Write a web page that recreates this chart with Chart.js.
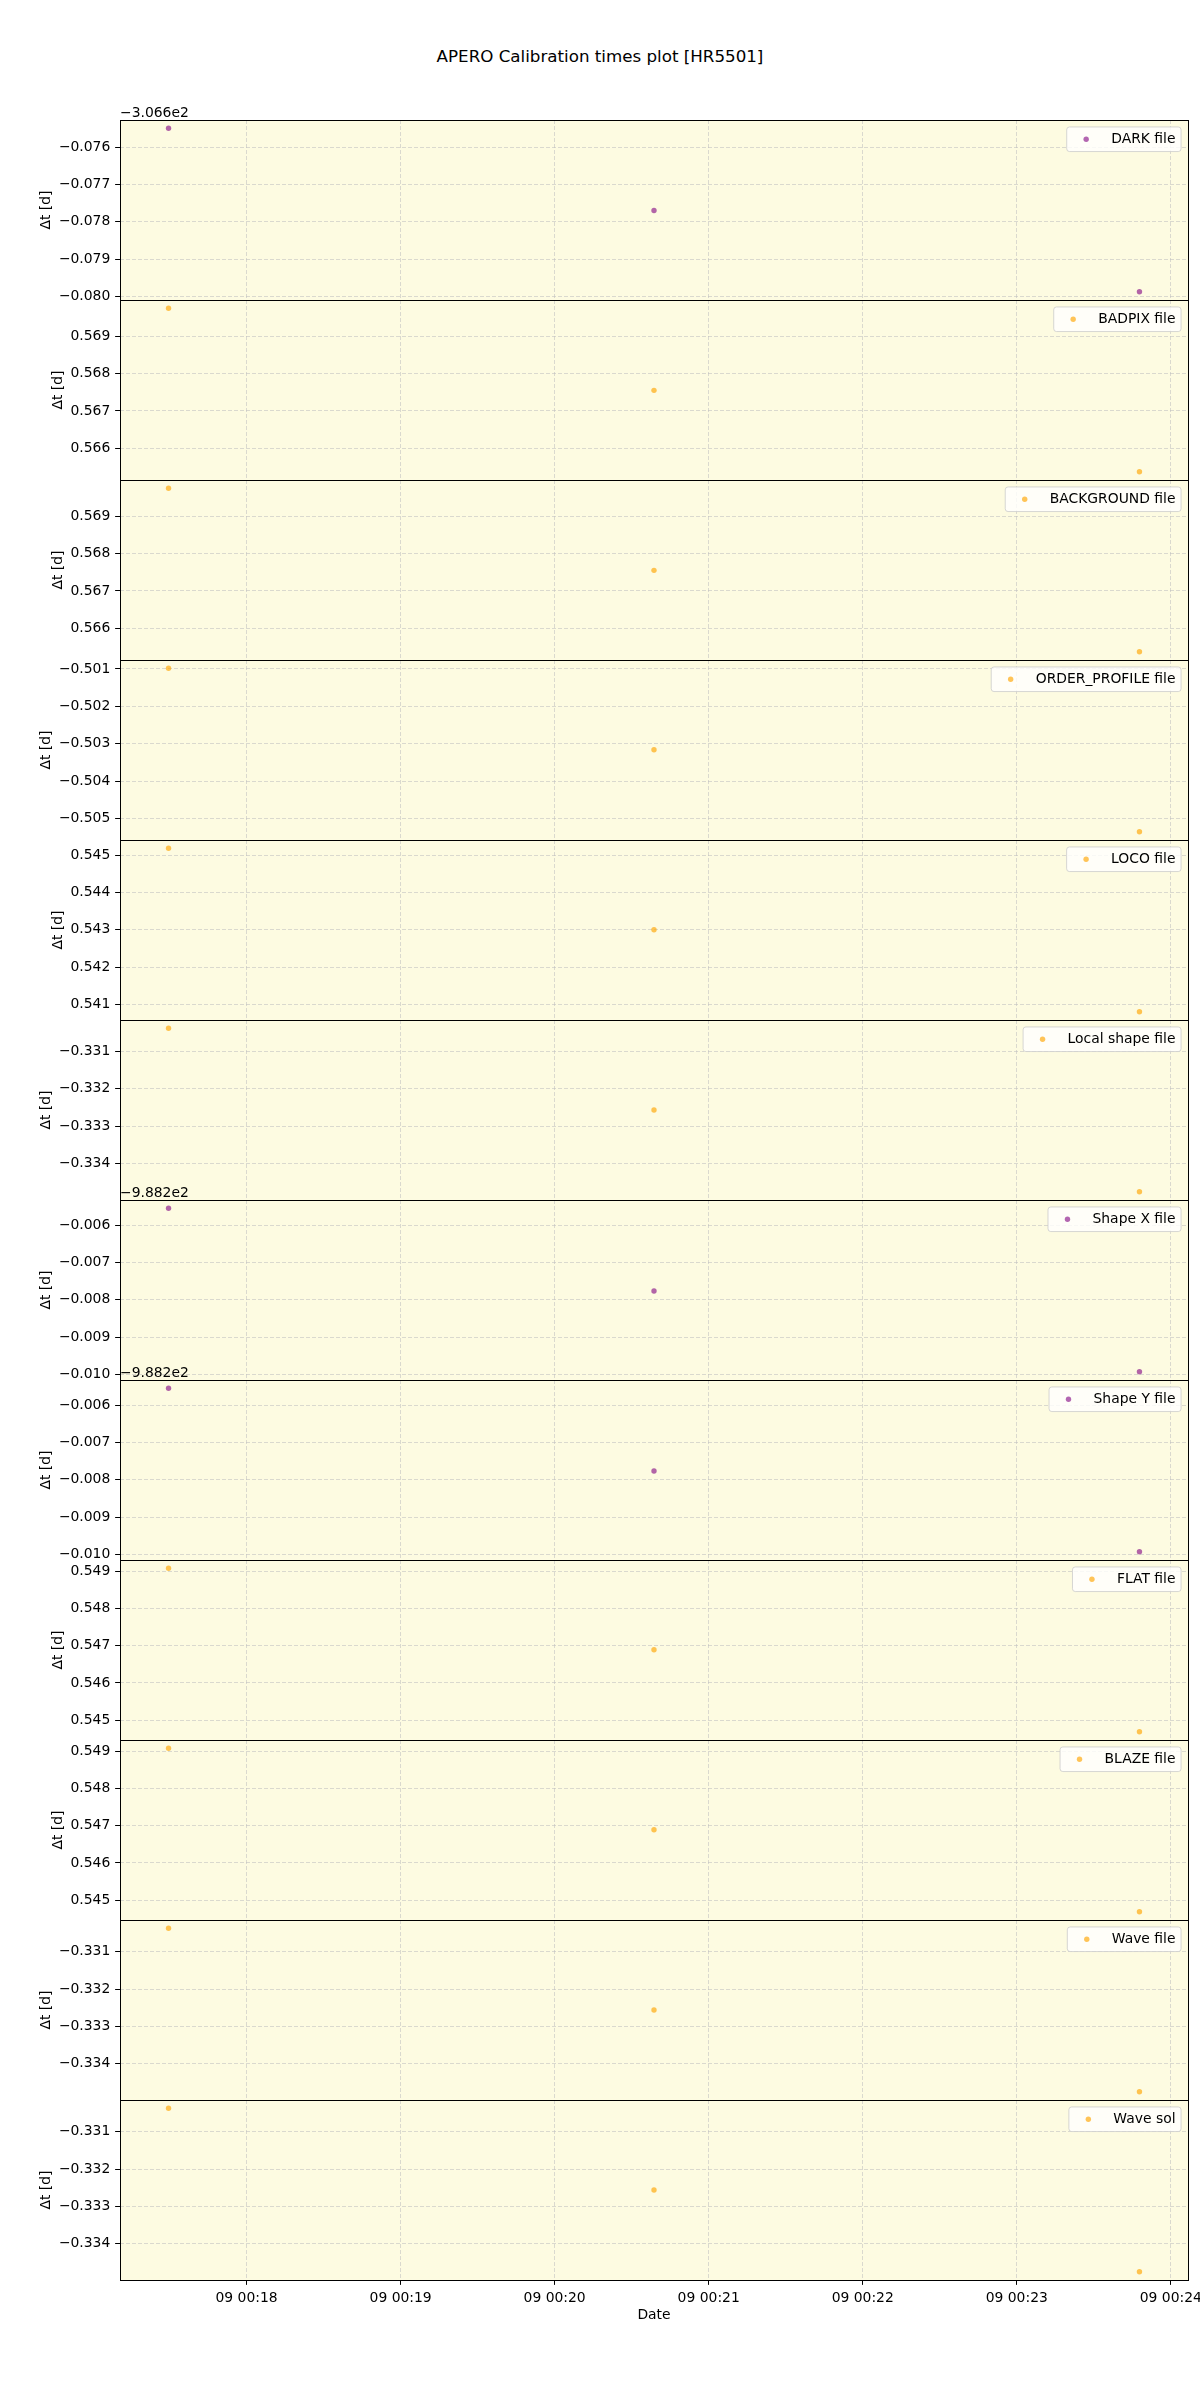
<!DOCTYPE html>
<html>
<head>
<meta charset="utf-8">
<title>APERO Calibration times plot [HR5501]</title>
<script src="https://cdn.jsdelivr.net/npm/chart.js@4.4.0/dist/chart.umd.min.js"></script>
<style>
  body { margin: 0; background: #fff; width: 1200px; height: 2400px; position: relative; overflow: hidden; }
  #suptitle { position: absolute; top: 46px; left: 0; width: 1200px; text-align: center;
              font-family: "DejaVu Sans"; font-size: 16.7px; line-height: 20px; color: #000; }
  canvas { position: absolute; left: 0; }
</style>
</head>
<body>
<div id="suptitle">APERO Calibration times plot [HR5501]</div>
<script>
// Observation times (day 09) and the day label used on the date axis
const dayLabel = '09';
const obsTimes = ['00:17:29.6', '00:20:38.7', '00:23:47.8'];

// One legend name per panel
const panelNames = ['DARK file', 'BADPIX file', 'BACKGROUND file', 'ORDER_PROFILE file',
    'LOCO file', 'Local shape file', 'Shape X file', 'Shape Y file',
    'FLAT file', 'BLAZE file', 'Wave file', 'Wave sol'];

// Delta t [d] for each calibration, one value per observation time
const dtDark         = [-306.67549, -306.67770, -306.67988];
const dtBadpix       = [0.56975, 0.56755, 0.56537];
const dtBackground   = [0.56975, 0.56755, 0.56537];
const dtOrderProfile = [-0.50098, -0.50316, -0.50535];
const dtLoco         = [0.54519, 0.54300, 0.54080];
const dtLocalShape   = [-0.33038, -0.33257, -0.33476];
const dtShapeX       = [-988.20554, -988.20776, -988.20993];
const dtShapeY       = [-988.20554, -988.20776, -988.20993];
const dtFlat         = [0.54908, 0.54689, 0.54469];
const dtBlaze        = [0.54908, 0.54689, 0.54469];
const dtWave         = [-0.33037, -0.33256, -0.33475];
const dtWaveSol      = [-0.33037, -0.33256, -0.33475];

// axis offsets shown above some panels (matplotlib style offset text)
const panelOffsets = [-306.6, 0, 0, 0, 0, 0, -988.2, -988.2, 0, 0, 0, 0];

const yTickStep = 0.001;   // days
const xTickStep = 60;      // seconds

const purpleDot = 'rgba(128, 0, 128, 0.6)';
const orangeDot = 'rgba(255, 165, 0, 0.65)';
const panelColors = [purpleDot, orangeDot, orangeDot, orangeDot, orangeDot, orangeDot,
    purpleDot, purpleDot, orangeDot, orangeDot, orangeDot, orangeDot];

const panelValues = [dtDark, dtBadpix, dtBackground, dtOrderProfile, dtLoco, dtLocalShape,
    dtShapeX, dtShapeY, dtFlat, dtBlaze, dtWave, dtWaveSol];

// layout
const PANEL_TOP = 120, PANEL_H = 180, PLOT_LEFT = 120, PLOT_RIGHT = 1188, TOP_PAD = 30;
const FONT = 'DejaVu Sans';
const FS = 13.9;
const TICK_LEN = 4.86, TICK_PAD = 4.86, LABEL_PAD = 5.56;
const GRID_COLOR = 'rgba(190, 190, 190, 0.7)';
const PANEL_BG = '#fdfbe1';

function toSeconds(t) {
    const p = t.split(':').map(Number);
    return p[0] * 3600 + p[1] * 60 + p[2];
}
function two(n) { return String(n).padStart(2, '0'); }
function minusSign(s) { return s.replace('-', '\u2212'); }
function fmtOffset(v) {
    const e = Math.floor(Math.log10(Math.abs(v)));
    const m = v / Math.pow(10, e);
    return (m < 0 ? '\u2212' : '') + Math.abs(m).toFixed(3) + 'e' + e;
}
function withMargin(vals) {
    const lo = Math.min(...vals), hi = Math.max(...vals);
    const m = (hi - lo) * 0.05;
    return [lo - m, hi + m];
}

const obsSeconds = obsTimes.map(toSeconds);
const [xMin, xMax] = withMargin(obsSeconds);

// draws panel background, frame, legend, y label and offset text
const panelDecor = {
    id: 'panelDecor',
    beforeDraw(chart, args, opts) {
        const {ctx, chartArea: ca} = chart;
        ctx.save();
        ctx.fillStyle = PANEL_BG;
        ctx.fillRect(ca.left, ca.top, ca.right - ca.left, ca.bottom - ca.top);
        ctx.restore();
    },
    afterDraw(chart, args, opts) {
        const {ctx, chartArea: ca} = chart;
        const ds = chart.data.datasets[0];
        const yScale = chart.scales.y;
        ctx.save();

        // frame
        ctx.strokeStyle = '#000';
        ctx.lineWidth = 1;
        ctx.strokeRect(Math.round(ca.left) + 0.5, Math.round(ca.top) + 0.5,
            Math.round(ca.right - ca.left), Math.round(ca.bottom - ca.top));

        ctx.font = FS + 'px "' + FONT + '"';
        ctx.fillStyle = '#000';

        // y label, placed left of the widest tick label
        let w = 0;
        yScale.ticks.forEach(t => { w = Math.max(w, ctx.measureText(t.label).width); });
        const xr = ca.left - TICK_LEN - TICK_PAD - w - LABEL_PAD;
        ctx.save();
        ctx.translate(xr, (ca.top + ca.bottom) / 2);
        ctx.rotate(-Math.PI / 2);
        ctx.textAlign = 'center';
        ctx.textBaseline = 'bottom';
        ctx.fillText('\u0394t [d]', 0, 0);
        ctx.restore();

        // offset text above the axes
        if (opts.offset) {
            ctx.textAlign = 'left';
            ctx.textBaseline = 'alphabetic';
            ctx.fillText(fmtOffset(opts.offset), ca.left, ca.top - 3.5);
        }

        // legend box (upper right)
        const tw = ctx.measureText(ds.label).width;
        const pad = 0.4 * FS, handle = 2 * FS, gap = 0.8 * FS;
        const bw = pad + handle + gap + tw + pad;
        const bh = 24.6;
        const bx = ca.right - 0.5 * FS - bw;
        const by = ca.top + 0.5 * FS;
        ctx.beginPath();
        if (ctx.roundRect) ctx.roundRect(bx, by, bw, bh, 2.8); else ctx.rect(bx, by, bw, bh);
        ctx.fillStyle = 'rgba(255, 255, 255, 0.8)';
        ctx.fill();
        ctx.strokeStyle = 'rgba(204, 204, 204, 0.8)';
        ctx.lineWidth = 1;
        ctx.stroke();
        ctx.beginPath();
        ctx.arc(bx + pad + handle / 2, by + bh / 2, ds.pointRadius, 0, Math.PI * 2);
        ctx.fillStyle = ds.backgroundColor;
        ctx.fill();
        ctx.fillStyle = '#000';
        ctx.textAlign = 'left';
        ctx.textBaseline = 'middle';
        ctx.fillText(ds.label, bx + pad + handle + gap, by + bh / 2 + 0.5);

        ctx.restore();
    }
};

const n = panelNames.length;
for (let i = 0; i < n; i++) {
    const isLast = i === n - 1;
    const offset = panelOffsets[i];
    const vals = panelValues[i];
    const [yMin, yMax] = withMargin(vals);
    const xH = isLast ? 56 : 0;
    const bottomPad = isLast ? 0 : 10;
    const canvasH = TOP_PAD + PANEL_H + xH + bottomPad;

    const canvas = document.createElement('canvas');
    canvas.width = 1200;
    canvas.height = canvasH;
    canvas.style.top = (PANEL_TOP + i * PANEL_H - TOP_PAD) + 'px';
    canvas.style.width = '1200px';
    canvas.style.height = canvasH + 'px';
    document.body.appendChild(canvas);

    new Chart(canvas, {
        type: 'scatter',
        data: {
            datasets: [{
                label: panelNames[i],
                data: obsSeconds.map((x, j) => ({x: x, y: vals[j]})),
                backgroundColor: panelColors[i],
                borderWidth: 0,
                pointRadius: 2.7,
                pointHoverRadius: 2.7
            }]
        },
        options: {
            responsive: false,
            animation: false,
            devicePixelRatio: 1,
            events: [],
            layout: {padding: {top: TOP_PAD, left: 0, right: 1200 - PLOT_RIGHT, bottom: bottomPad}},
            plugins: {
                legend: {display: false},
                tooltip: {enabled: false},
                panelDecor: {offset: offset}
            },
            scales: {
                x: {
                    type: 'linear',
                    min: xMin,
                    max: xMax,
                    afterBuildTicks(scale) {
                        const ticks = [];
                        for (let k = Math.ceil(scale.min / xTickStep); k * xTickStep <= scale.max; k++) {
                            ticks.push({value: k * xTickStep});
                        }
                        scale.ticks = ticks;
                    },
                    afterFit(scale) {
                        scale.height = xH;
                        scale.paddingLeft = 0;
                        scale.paddingRight = 0;
                    },
                    grid: {color: GRID_COLOR, lineWidth: 0.8, drawTicks: isLast,
                           tickLength: TICK_LEN, tickColor: '#000', tickWidth: 1},
                    border: {display: false, dash: [4, 2]},
                    ticks: {
                        display: isLast,
                        autoSkip: false,
                        maxRotation: 0,
                        padding: TICK_PAD,
                        color: '#000',
                        font: {family: FONT, size: FS},
                        callback(value) {
                            const m = Math.round(value / 60);
                            return dayLabel + ' ' + two(Math.floor(m / 60)) + ':' + two(m % 60);
                        }
                    },
                    title: {
                        display: isLast,
                        text: 'Date',
                        color: '#000',
                        font: {family: FONT, size: FS},
                        padding: {top: 0, bottom: 12.7}
                    }
                },
                y: {
                    type: 'linear',
                    min: yMin,
                    max: yMax,
                    afterBuildTicks(scale) {
                        const ticks = [];
                        const k0 = Math.ceil((scale.min - offset) / yTickStep - 1e-6);
                        const k1 = Math.floor((scale.max - offset) / yTickStep + 1e-6);
                        for (let k = k0; k <= k1; k++) ticks.push({value: offset + k * yTickStep});
                        scale.ticks = ticks;
                    },
                    afterFit(scale) {
                        scale.width = PLOT_LEFT;
                        scale.paddingTop = 0;
                        scale.paddingBottom = 0;
                    },
                    grid: {color: GRID_COLOR, lineWidth: 0.8, drawTicks: true,
                           tickLength: TICK_LEN, tickColor: '#000', tickWidth: 1},
                    border: {display: false, dash: [4, 2]},
                    ticks: {
                        padding: TICK_PAD,
                        color: '#000',
                        font: {family: FONT, size: FS},
                        callback(value) {
                            return minusSign((value - offset).toFixed(3));
                        }
                    }
                }
            }
        },
        plugins: [panelDecor]
    });
}
</script>
</body>
</html>
